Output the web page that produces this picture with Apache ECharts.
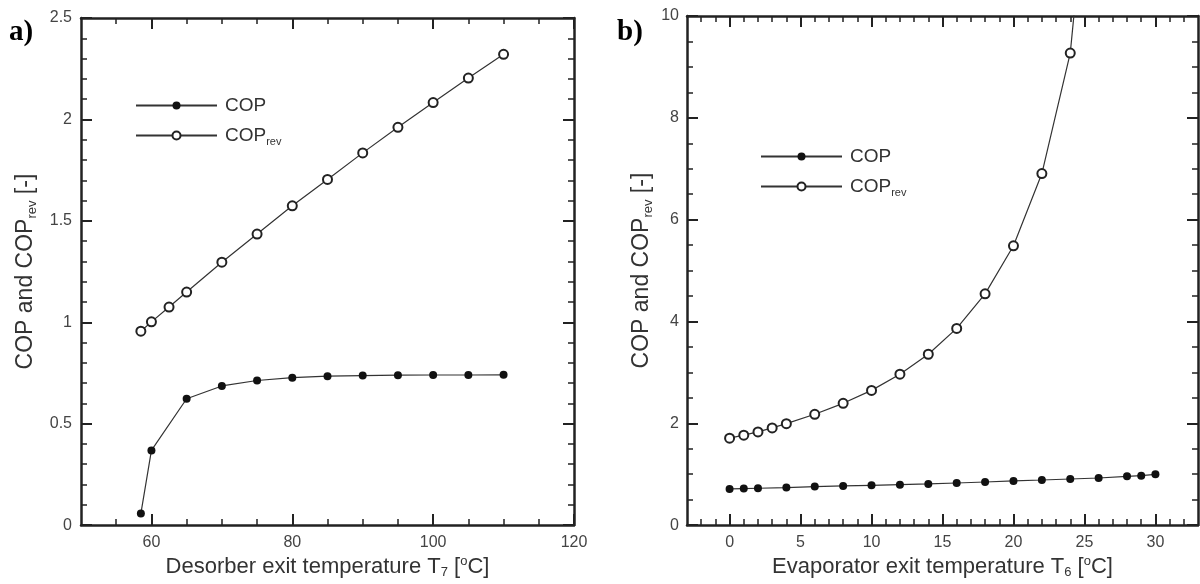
<!DOCTYPE html>
<html>
<head>
<meta charset="utf-8">
<script src="https://cdn.jsdelivr.net/npm/echarts@6/dist/echarts.min.js"></script>
<style>
html,body{margin:0;padding:0;background:#fff;}
#chart{width:1200px;height:584px;}
</style>
</head>
<body>
<div id="chart"></div>
<script>
// ---- Panel a) : Desorber exit temperature ----
var aCopX = [58.5, 60, 65, 70, 75, 80, 85, 90, 95, 100, 105, 110];
var aCopY = [0.057, 0.368, 0.623, 0.686, 0.713, 0.727, 0.734, 0.737, 0.739, 0.740, 0.740, 0.741];
var aRevX = [58.5, 60, 62.5, 65, 70, 75, 80, 85, 90, 95, 100, 105, 110];
var aRevY = [0.956, 1.002, 1.075, 1.149, 1.296, 1.435, 1.574, 1.704, 1.835, 1.961, 2.083, 2.204, 2.321];
var aXMajor = [60, 80, 100, 120];
var aXMinor = [55, 65, 70, 75, 85, 90, 95, 105, 110, 115];

// ---- Panel b) : Evaporator exit temperature ----
var bCopX = [0, 1, 2, 4, 6, 8, 10, 12, 14, 16, 18, 20, 22, 24, 26, 28, 29, 30];
var bCopY = [0.711, 0.717, 0.724, 0.737, 0.756, 0.769, 0.782, 0.795, 0.808, 0.827, 0.847, 0.867, 0.886, 0.906, 0.925, 0.958, 0.971, 0.997];
var bRevX = [0, 1, 2, 3, 4, 6, 8, 10, 12, 14, 16, 18, 20, 22, 24, 26];
var bRevY = [1.708, 1.767, 1.831, 1.909, 1.993, 2.177, 2.392, 2.646, 2.965, 3.356, 3.864, 4.542, 5.486, 6.906, 9.271, 15.0];
var bXMajor = [0, 5, 10, 15, 20, 25, 30];
var bXMinor = [-2, -1, 1, 2, 3, 4, 6, 7, 8, 9, 11, 12, 13, 14, 16, 17, 18, 19, 21, 22, 23, 24, 26, 27, 28, 29, 31, 32];

function pairs(xs, ys){ return xs.map(function(x,i){ return [x, ys[i]]; }); }

var FONT = 'Liberation Sans, Arial, sans-serif';
var AX = '#222';
var LBL = '#444';

function xAxes(gridIndex, min, max, major, minor, withName){
  var base = {
    type: 'value', gridIndex: gridIndex, min: min, max: max, interval: 1,
    splitLine: {show: false}
  };
  return [
    Object.assign({}, base, {
      position: 'bottom',
      axisLine: {show: true, onZero: false, lineStyle: {color: AX, width: 2.5}},
      axisTick: {show: true, inside: true, length: 11, customValues: major, lineStyle: {color: AX, width: 2}},
      axisLabel: {show: true, customValues: major, margin: 9, color: LBL, fontSize: 16, fontFamily: FONT},
      name: withName, nameLocation: 'middle', nameGap: 28,
      nameTextStyle: {color: '#333', fontSize: 22, fontFamily: FONT,
        rich: {
          sub: {fontSize: 13, fontFamily: FONT, color: '#333', padding: [12, 0, 0, 0]},
          sup: {fontSize: 13, fontFamily: FONT, color: '#333', padding: [0, 0, 10, 0]}
        }}
    }),
    Object.assign({}, base, {
      position: 'bottom',
      axisLine: {show: false, onZero: false},
      axisTick: {show: true, inside: true, length: 6, customValues: minor, lineStyle: {color: AX, width: 1.5}},
      axisLabel: {show: false}
    }),
    Object.assign({}, base, {
      position: 'top',
      axisLine: {show: true, onZero: false, lineStyle: {color: AX, width: 2.5}},
      axisTick: {show: true, inside: true, length: 11, customValues: major, lineStyle: {color: AX, width: 2}},
      axisLabel: {show: false}
    }),
    Object.assign({}, base, {
      position: 'top',
      axisLine: {show: false, onZero: false},
      axisTick: {show: true, inside: true, length: 6, customValues: minor, lineStyle: {color: AX, width: 1.5}},
      axisLabel: {show: false}
    })
  ];
}

function yAxes(gridIndex, max, interval, minorSplit, gap, margin){
  var base = {type: 'value', gridIndex: gridIndex, min: 0, max: max, interval: interval, splitLine: {show: false}};
  return [
    Object.assign({}, base, {
      position: 'left',
      axisLine: {show: true, onZero: false, lineStyle: {color: AX, width: 2.5}},
      axisTick: {show: true, inside: true, length: 11, lineStyle: {color: AX, width: 2}},
      minorTick: {show: true, splitNumber: minorSplit, length: 6, lineStyle: {color: AX, width: 1.5}},
      axisLabel: {show: true, margin: margin, color: LBL, fontSize: 16, fontFamily: FONT},
      name: 'COP and COP{sub|rev} [-]', nameLocation: 'middle', nameGap: gap,
      nameTextStyle: {color: '#333', fontSize: 23, fontFamily: FONT,
        rich: {sub: {fontSize: 13, fontFamily: FONT, color: '#333', padding: [13, 0, 0, 0]}}}
    }),
    Object.assign({}, base, {
      position: 'right',
      axisLine: {show: true, onZero: false, lineStyle: {color: AX, width: 2.5}},
      axisTick: {show: true, inside: true, length: 11, lineStyle: {color: AX, width: 2}},
      minorTick: {show: true, splitNumber: minorSplit, length: 6, lineStyle: {color: AX, width: 1.5}},
      axisLabel: {show: false}
    })
  ];
}

var copStyle = {
  type: 'line', symbol: 'circle', symbolSize: 8, clip: true,
  lineStyle: {color: '#333', width: 1.2},
  itemStyle: {color: '#111', borderColor: '#111', borderWidth: 0},
  emphasis: {disabled: true}, animation: false
};
var revStyle = {
  type: 'line', symbol: 'emptyCircle', symbolSize: 9, clip: true,
  lineStyle: {color: '#333', width: 1.2},
  itemStyle: {color: '#222', borderColor: '#222', borderWidth: 1.3},
  emphasis: {disabled: true}, animation: false
};

function legendFmt(name){ return name === 'COPrev' ? 'COP{sub|rev}' : 'COP'; }
function legend(left, top){
  return {
    left: left, top: top, orient: 'vertical', itemWidth: 81, itemHeight: 10, itemGap: 9,
    data: ['COP', 'COPrev'], selectedMode: false, formatter: legendFmt,
    textStyle: {color: '#333', fontSize: 19, fontFamily: FONT, padding: [0, 0, 0, 3], lineHeight: 21,
      rich: {sub: {fontSize: 11, fontFamily: FONT, color: '#333', padding: [12, 0, 0, 0]}}}
  };
}

var chart = echarts.init(document.getElementById('chart'), null, {renderer: 'canvas'});
chart.setOption({
  animation: false,
  backgroundColor: '#fff',
  grid: [
    {left: 81, top: 18, width: 493, height: 510, containLabel: false},
    {left: 687, top: 16, width: 511, height: 512, containLabel: false}
  ],
  xAxis: [].concat(
    xAxes(0, 50, 120, aXMajor, aXMinor, 'Desorber exit temperature T{sub|7} [{sup|o}C]'),
    xAxes(1, -3, 33, bXMajor, bXMinor, 'Evaporator exit temperature T{sub|6} [{sup|o}C]')
  ),
  yAxis: [].concat(yAxes(0, 2.5, 0.5, 5, 42, 9), yAxes(1, 10, 2, 4, 32, 8)),
  legend: [legend(130, 90), legend(755, 141)],
  graphic: [
    {type: 'text', left: 9, top: 18, style: {text: 'a)', font: 'bold 29px "Liberation Serif", "Times New Roman", serif', fill: '#000'}},
    {type: 'text', left: 617, top: 18, style: {text: 'b)', font: 'bold 29px "Liberation Serif", "Times New Roman", serif', fill: '#000'}}
  ],
  series: [
    Object.assign({}, copStyle, {name: 'COP', xAxisIndex: 0, yAxisIndex: 0, data: pairs(aCopX, aCopY)}),
    Object.assign({}, revStyle, {name: 'COPrev', xAxisIndex: 0, yAxisIndex: 0, data: pairs(aRevX, aRevY)}),
    Object.assign({}, copStyle, {name: 'COP', xAxisIndex: 4, yAxisIndex: 2, data: pairs(bCopX, bCopY)}),
    Object.assign({}, revStyle, {name: 'COPrev', xAxisIndex: 4, yAxisIndex: 2, data: pairs(bRevX, bRevY)})
  ]
});
</script>
</body>
</html>
